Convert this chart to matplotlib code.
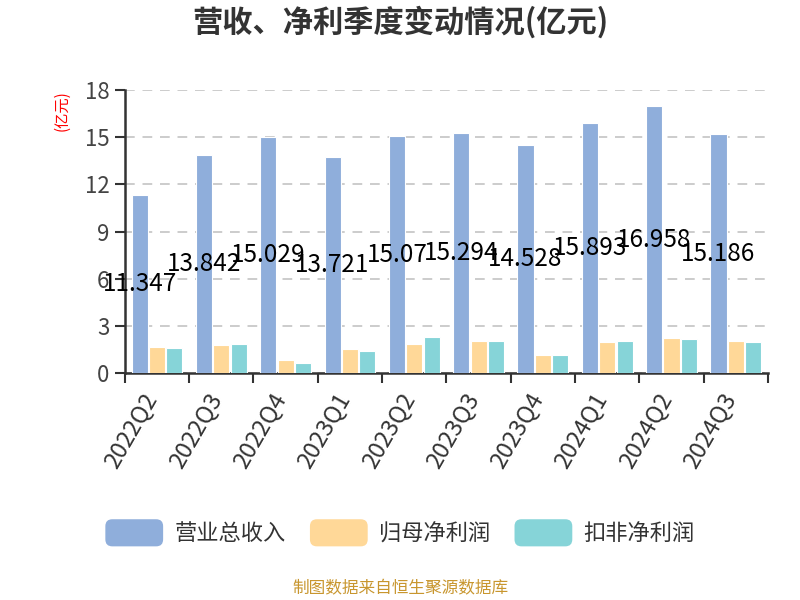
import numpy as np
import matplotlib
matplotlib.use('Agg')
import matplotlib.pyplot as plt
import matplotlib.transforms as mtransforms
from matplotlib.patches import FancyBboxPatch, Patch
from matplotlib.legend_handler import HandlerPatch

plt.rcParams['font.family'] = ['Noto Sans CJK SC', 'DejaVu Sans']

# Datos
quarters = ['2022Q2', '2022Q3', '2022Q4', '2023Q1', '2023Q2',
            '2023Q3', '2023Q4', '2024Q1', '2024Q2', '2024Q3']
revenue = [11.347, 13.842, 15.029, 13.721, 15.07, 15.294, 14.528, 15.893, 16.958, 15.186]
net_profit = [1.68, 1.78, 0.86, 1.55, 1.87, 2.02, 1.17, 1.97, 2.24, 2.03]
net_profit_ded = [1.59, 1.85, 0.65, 1.38, 2.31, 2.02, 1.13, 2.05, 2.18, 1.97]
series_names = ['营业总收入', '归母净利润', '扣非净利润']
colors = ['#8FAEDB', '#FFD898', '#86D4D8']


class RoundHandler(HandlerPatch):
    def create_artists(self, legend, orig_handle, xdescent, ydescent,
                       width, height, fontsize, trans):
        p = FancyBboxPatch((-xdescent, -ydescent), width, height,
                           boxstyle='round,pad=0,rounding_size=5',
                           facecolor=orig_handle.get_facecolor(),
                           edgecolor='none', transform=trans)
        return [p]


fig = plt.figure(figsize=(8, 6), dpi=100)
ax = fig.add_axes([0.156, 0.378, 0.804, 0.472])

x = np.arange(len(quarters))
w = 0.25
off = 0.27
ax.bar(x - off, revenue, w, color=colors[0], edgecolor='white', linewidth=0.8, zorder=3)
ax.bar(x, net_profit, w, color=colors[1], edgecolor='white', linewidth=0.8, zorder=3)
ax.bar(x + off, net_profit_ded, w, color=colors[2], edgecolor='white', linewidth=0.8, zorder=3)

# Etiquetas de valores
for xi, v in zip(x, revenue):
    ax.text(xi - off, v / 2, f'{v:g}', ha='center', va='center',
            fontsize=17.5, color='black', zorder=5)

ax.set_xlim(-0.5, len(quarters) - 0.5)
ax.set_ylim(0, 18)
ax.set_yticks(np.arange(0, 19, 3))
ax.set_xticks(np.arange(-0.5, len(quarters), 1.0))
ax.set_xticklabels([])
ax.tick_params(axis='x', which='major', length=7, width=1.5, color='#333333')
ax.tick_params(axis='y', length=7, width=1.5, color='#333333',
               labelsize=16, labelcolor='#444444', pad=4)

# Etiquetas del eje x (rotadas)
shift = mtransforms.ScaledTranslation(-0.15, -0.16, fig.dpi_scale_trans)
for xi, q in zip(x, quarters):
    ax.text(xi, 0, q, transform=ax.get_xaxis_transform() + shift,
            rotation=60, ha='right', va='top', rotation_mode='anchor',
            fontsize=17, color='#333333')

for s in ['top', 'right']:
    ax.spines[s].set_visible(False)
for s in ['left', 'bottom']:
    ax.spines[s].set_color('#333333')
    ax.spines[s].set_linewidth(1.8)

ax.yaxis.grid(True, linestyle=(0, (5, 4)), color='#cccccc', linewidth=1.4, zorder=0)
ax.set_axisbelow(True)

fig.text(0.078, 0.815, '(亿元)', rotation=90, color='red', fontsize=11,
         ha='center', va='center')

fig.text(0.5, 0.962, '营收、净利季度变动情况(亿元)', ha='center', va='center',
         fontsize=21.8, fontweight='bold', color='#333333')

handles = [Patch(facecolor=c, label=n) for c, n in zip(colors, series_names)]
fig.legend(handles=handles, loc='center', bbox_to_anchor=(0.5, 0.112), ncol=3,
           frameon=False, fontsize=16, handlelength=2.6, handleheight=1.5,
           handletextpad=0.5, columnspacing=1.1, labelcolor='#333333',
           handler_map={Patch: RoundHandler()})

fig.text(0.5, 0.018, '制图数据来自恒生聚源数据库', ha='center', va='center',
         fontsize=12, color='#C8962E')

fig.savefig('out.png', dpi=100)
